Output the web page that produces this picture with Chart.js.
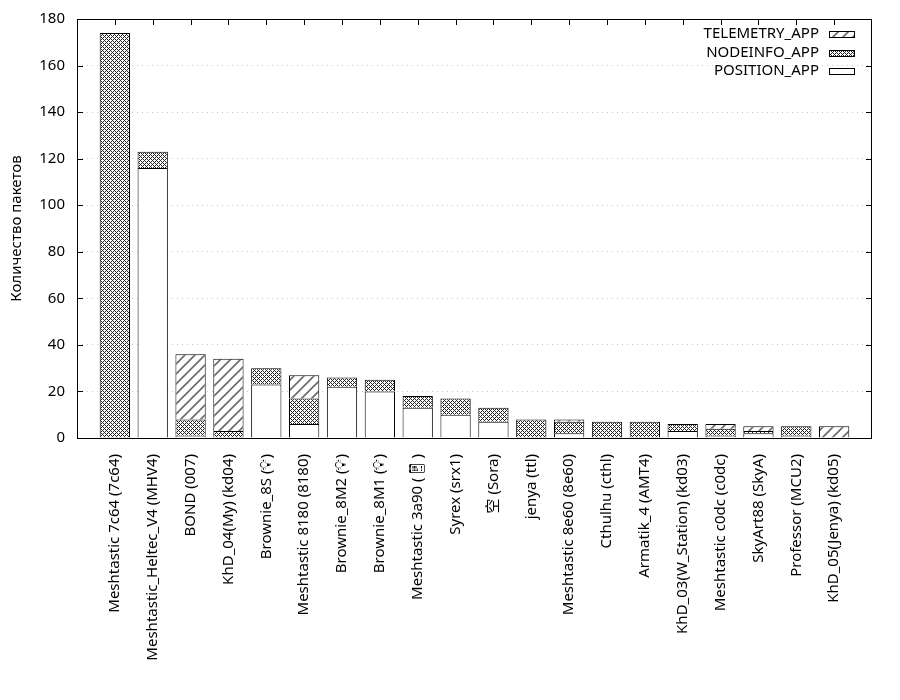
<!DOCTYPE html>
<html>
<head>
<meta charset="utf-8">
<title>Количество пакетов</title>
<script src="https://cdn.jsdelivr.net/npm/chart.js@4.4.0/dist/chart.umd.min.js"></script>
<style>
  html, body { margin: 0; padding: 0; background: #fff; }
</style>
</head>
<body>
<canvas id="chart" width="900" height="700"></canvas>
<script>
// node names, in the order of the bars
const labels = [
    'Meshtastic 7c64 (7c64)',
    'Meshtastic_Heltec_V4 (MHV4)',
    'BOND (007)',
    'KhD_04(My) (kd04)',
    'Brownie_8S (\u{1F4A1}\uFE0E)',
    'Meshtastic 8180 (8180)',
    'Brownie_8M2 (\u{1F4A1}\uFE0E)',
    'Brownie_8M1 (\u{1F4A1}\uFE0E)',
    'Meshtastic 3a90 (\u{1F4F1}\uFE0E)',
    'Syrex (srx1)',
    '空 (Sora)',
    'jenya (ttl)',
    'Meshtastic 8e60 (8e60)',
    'Cthulhu (cthl)',
    'Armatik_4 (AMT4)',
    'KhD_03(W_Station) (kd03)',
    'Meshtastic c0dc (c0dc)',
    'SkyArt88 (SkyA)',
    'Professor (MCU2)',
    'KhD_05(Jenya) (kd05)'
];

// packets per type, stacked bottom to top
const positionApp  = [0, 116, 1, 0, 23, 6, 22, 20, 13, 10, 7, 0, 2, 0, 0, 3, 1, 2, 1, 0];
const nodeinfoApp  = [174, 7, 7, 3, 7, 11, 4, 5, 5, 7, 6, 8, 5, 7, 7, 3, 3, 1, 4, 0];
const telemetryApp = [0, 0, 28, 31, 0, 10, 0, 0, 0, 0, 0, 0, 1, 0, 0, 0, 2, 2, 0, 5];

const yTicks = [0, 20, 40, 60, 80, 100, 120, 140, 160, 180];

const FONT = '"Noto Sans", "Noto Sans CJK SC", sans-serif';

function makeHatch() {
    const c = document.createElement('canvas');
    c.width = 10; c.height = 10;
    const g = c.getContext('2d');
    g.fillStyle = '#fff';
    g.fillRect(0, 0, 10, 10);
    g.strokeStyle = '#6a6a6a';
    g.lineWidth = 1.6;
    g.beginPath();
    g.moveTo(-1, 11); g.lineTo(11, -1);
    g.moveTo(-1, 1); g.lineTo(1, -1);
    g.moveTo(9, 11); g.lineTo(11, 9);
    g.stroke();
    return g.createPattern(c, 'repeat');
}

function makeCross() {
    const c = document.createElement('canvas');
    c.width = 4; c.height = 4;
    const g = c.getContext('2d');
    g.fillStyle = '#fff';
    g.fillRect(0, 0, 4, 4);
    g.fillStyle = '#222';
    [[0, 0], [1, 1], [2, 2], [3, 3], [1, 3], [3, 1]].forEach(function(p) {
        g.fillRect(p[0], p[1], 1, 1);
    });
    return g.createPattern(c, 'repeat');
}

function toPoints(arr) {
    return arr.map(function(v, i) { return { x: i, y: v === 0 ? null : v }; });
}

const hatch = makeHatch();
const cross = makeCross();

// gnuplot style frame, inward ticks and the key
const framePlugin = {
    id: 'frame',
    beforeDatasetsDraw(chart) {
        const ctx = chart.ctx;
        const a = chart.chartArea;
        const sx = chart.scales.x, sy = chart.scales.y;
        ctx.save();
        ctx.setLineDash([]);
        ctx.strokeStyle = '#000';
        ctx.lineWidth = 1;
        ctx.beginPath();
        yTicks.forEach(function(v) {
            const y = Math.round(sy.getPixelForValue(v)) + 0.5;
            ctx.moveTo(a.left, y); ctx.lineTo(a.left + 6, y);
            ctx.moveTo(a.right, y); ctx.lineTo(a.right - 6, y);
        });
        labels.forEach(function(l, i) {
            const x = Math.round(sx.getPixelForValue(i)) + 0.5;
            ctx.moveTo(x, a.top); ctx.lineTo(x, a.top + 6);
        });
        ctx.stroke();
        ctx.restore();
    },
    afterDatasetsDraw(chart) {
        const ctx = chart.ctx;
        const a = chart.chartArea;
        ctx.save();
        ctx.setLineDash([]);
        ctx.strokeStyle = '#000';
        ctx.lineWidth = 1;
        ctx.strokeRect(Math.round(a.left) + 0.5, Math.round(a.top) + 0.5,
                       Math.round(a.right - a.left) - 1, Math.round(a.bottom - a.top));

        // key, top right, last dataset first
        ctx.font = '15px ' + FONT;
        ctx.fillStyle = '#000';
        ctx.textAlign = 'right';
        ctx.textBaseline = 'middle';
        const ds = chart.data.datasets.slice().reverse();
        ds.forEach(function(d, i) {
            const y = Math.round(34 + i * 18.5);
            ctx.fillText(d.label, 819, y);
            ctx.fillStyle = d.backgroundColor;
            ctx.fillRect(829, y - 3, 26, 7);
            ctx.strokeRect(829.5, y - 2.5, 25, 6);
            ctx.fillStyle = '#000';
        });
        ctx.restore();
    }
};

Chart.defaults.font.family = FONT;
Chart.defaults.font.size = 15;
Chart.defaults.color = '#000';

const ctx = document.getElementById('chart').getContext('2d');

new Chart(ctx, {
    type: 'bar',
    data: {
        datasets: [
            { label: 'POSITION_APP', data: toPoints(positionApp), backgroundColor: '#fff' },
            { label: 'NODEINFO_APP', data: toPoints(nodeinfoApp), backgroundColor: cross },
            { label: 'TELEMETRY_APP', data: toPoints(telemetryApp), backgroundColor: hatch }
        ]
    },
    options: {
        responsive: false,
        animation: false,
        devicePixelRatio: 1,
        layout: { padding: { top: 19, right: 28, left: 0, bottom: 0 } },
        datasets: {
            bar: {
                borderColor: '#000',
                borderWidth: { top: 1, left: 1, right: 1, bottom: 0 },
                borderSkipped: false,
                barPercentage: 0.8,
                categoryPercentage: 1.0
            }
        },
        plugins: {
            legend: { display: false },
            tooltip: { enabled: false }
        },
        scales: {
            x: {
                type: 'linear',
                stacked: true,
                offset: false,
                min: -1,
                max: 20,
                grid: { display: false, offset: false },
                border: { display: false },
                ticks: {
                    stepSize: 1,
                    autoSkip: false,
                    maxTicksLimit: 100,
                    minRotation: 90,
                    maxRotation: 90,
                    padding: 8,
                    font: { size: 15 },
                    callback: function(value) {
                        return labels[value] !== undefined ? labels[value] : '';
                    }
                },
                afterFit: function(scale) {
                    scale.height = 262;
                    scale.paddingLeft = 0;
                    scale.paddingRight = 0;
                }
            },
            y: {
                stacked: true,
                min: 0,
                max: 180,
                grid: {
                    color: 'rgba(0,0,0,0.22)',
                    lineWidth: 1,
                    drawTicks: false
                },
                border: { display: false, dash: [1, 4] },
                ticks: {
                    stepSize: 20,
                    padding: 12,
                    font: { size: 15 }
                },
                title: {
                    display: true,
                    text: 'Количество пакетов',
                    font: { size: 15 },
                    padding: { top: 8, bottom: 0 }
                },
                afterFit: function(scale) {
                    scale.width = 77;
                    scale.paddingTop = 0;
                    scale.paddingBottom = 0;
                }
            }
        }
    },
    plugins: [framePlugin]
});
</script>
</body>
</html>
